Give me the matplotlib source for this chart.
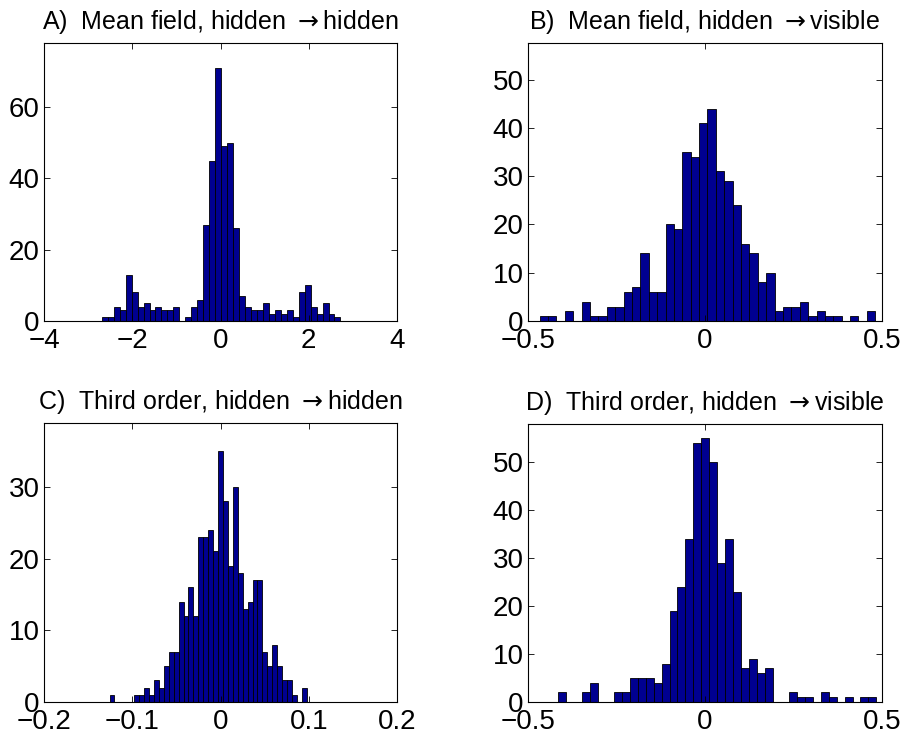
import matplotlib
matplotlib.use("Agg")
import matplotlib.pyplot as plt
import numpy as np

plt.rcParams['font.family'] = ['Liberation Sans', 'DejaVu Sans']

# histogram counts (40 bins per panel)
counts_a = [1, 1, 4, 3, 13, 8, 4, 5, 3, 4, 3, 3, 4, 0, 1, 4, 6, 27, 45, 71,
            49, 50, 26, 7, 4, 3, 3, 5, 2, 3, 2, 3, 1, 8, 10, 4, 2, 5, 2, 1]
counts_b = [1, 1, 0, 2, 0, 4, 1, 1, 3, 3, 6, 7, 14, 6, 6, 20, 19, 35, 34, 41,
            44, 31, 29, 24, 16, 14, 8, 10, 2, 3, 3, 4, 1, 2, 1, 1, 0, 1, 0, 2]
counts_c = [1, 0, 0, 0, 0, 1, 1, 2, 1, 3, 2, 5, 7, 7, 14, 12, 16, 12, 23, 23,
            24, 21, 35, 28, 19, 30, 18, 13, 14, 17, 17, 7, 5, 8, 5, 3, 3, 1, 0, 2]
counts_d = [2, 0, 0, 2, 4, 0, 0, 2, 2, 5, 5, 5, 4, 8, 19, 24, 34, 54, 55, 50,
            29, 34, 23, 7, 9, 6, 7, 0, 0, 2, 1, 1, 0, 2, 1, 0, 1, 0, 1, 1]

# first bin edge and bin width
bins_a = (-2.69, 0.1352)
bins_b = (-0.467, 0.0237)
bins_c = (-0.1257, 0.005585)
bins_d = (-0.415, 0.02248)

titles = [r"A)  Mean field, hidden $\rightarrow$hidden",
          r"B)  Mean field, hidden $\rightarrow$visible",
          r"C)  Third order, hidden $\rightarrow$hidden",
          r"D)  Third order, hidden $\rightarrow$visible"]
xlims = [(-4, 4), (-0.5, 0.5), (-0.2, 0.2), (-0.5, 0.5)]
xticks = [[-4, -2, 0, 2, 4], [-0.5, 0, 0.5], [-0.2, -0.1, 0, 0.1, 0.2], [-0.5, 0, 0.5]]
xticklabels = [["\u22124", "\u22122", "0", "2", "4"],
               ["\u22120.5", "0", "0.5"],
               ["\u22120.2", "\u22120.1", "0", "0.1", "0.2"],
               ["\u22120.5", "0", "0.5"]]
ylims = [78, 57.6, 38.9, 58]
yticks = [[0, 20, 40, 60], [0, 10, 20, 30, 40, 50], [0, 10, 20, 30], [0, 10, 20, 30, 40, 50]]

fig = plt.figure(figsize=(9.01, 7.42), dpi=100)
W, H = 901, 742
boxes = [(44, 43, 397, 321), (528, 43, 882, 321),
         (44, 423, 397, 702), (528, 424, 882, 702)]

panels = zip([counts_a, counts_b, counts_c, counts_d],
             [bins_a, bins_b, bins_c, bins_d])
for i, (counts, (e0, w)) in enumerate(panels):
    l, t, r, b = boxes[i]
    ax = fig.add_axes([l / W, (H - b) / H, (r - l) / W, (b - t) / H])
    lefts = e0 + w * np.arange(len(counts))
    ax.bar(lefts, counts, width=w, align='edge', color='#000090',
           edgecolor='black', linewidth=0.6)
    ax.set_xlim(*xlims[i])
    ax.set_ylim(0, ylims[i])
    ax.set_xticks(xticks[i])
    ax.set_xticklabels(xticklabels[i])
    ax.set_yticks(yticks[i])
    ax.tick_params(direction='in', length=4, width=0.6, top=True, right=True,
                   labelsize=20)
    ax.tick_params(axis='x', pad=5)
    ax.tick_params(axis='y', pad=3)
    for s in ax.spines.values():
        s.set_linewidth(0.8)
    ax.set_title(titles[i], fontsize=18, pad=10)

fig.savefig("out.png", dpi=100)
